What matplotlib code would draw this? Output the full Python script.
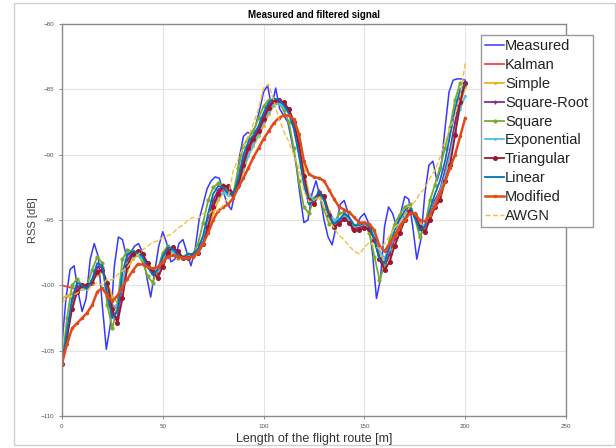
import numpy as np
import matplotlib
matplotlib.use('Agg')
import matplotlib.pyplot as plt
from matplotlib.patches import Rectangle

plt.rcParams['font.family'] = ['Liberation Sans', 'DejaVu Sans']

# measured signal, 2 m grid
x_meas = np.arange(0, 201, 2)
measured = [-104.5, -101.0, -98.8, -98.5, -100.5, -102.0, -101.0, -98.0, -96.8, -97.8,
            -101.5, -104.9, -103.0, -98.5, -96.3, -96.5, -97.8, -97.5, -97.0, -96.8,
            -97.5, -99.3, -100.9, -99.0, -97.0, -95.9, -96.8, -98.2, -98.0, -96.8,
            -96.5, -97.5, -98.5, -97.3, -95.0, -93.8, -92.6, -92.0, -91.7, -91.8,
            -92.8, -93.8, -94.2, -92.8, -90.2, -88.6, -88.3, -88.4, -87.8, -86.6,
            -85.2, -84.7, -86.4, -84.9, -86.5, -87.0, -87.5, -89.0, -90.6, -93.0,
            -95.2, -95.0, -93.0, -92.0, -93.2, -95.0, -96.3, -96.9, -95.5, -93.8,
            -93.5, -94.5, -95.8, -95.5, -94.8, -94.5, -95.2, -97.5, -101.0, -99.5,
            -95.5, -94.0, -94.5, -95.5, -94.5, -93.2, -93.4, -95.5, -98.0, -96.5,
            -93.0, -90.8, -90.5, -92.0, -91.0, -88.0, -85.2, -84.3, -84.2, -84.2,
            -84.3]

# filtered signals, 2.5 m grid
x_filt = np.arange(0, 201, 2.5)
kalman = [-100.0, -100.1, -100.2, -100.3, -100.2, -100.3, -99.8, -98.9, -98.8, -100.0,
          -101.5, -101.8, -100.0, -98.3, -97.7, -97.5, -97.8, -98.5, -99.0, -98.9,
          -98.1, -97.4, -97.3, -97.6, -97.9, -97.8, -97.7, -97.4, -96.6, -95.3,
          -93.9, -93.0, -92.7, -92.9, -93.1, -92.3, -90.8, -89.7, -89.0, -88.3,
          -87.4, -86.5, -86.0, -85.9, -86.1, -86.7, -87.8, -89.6, -91.9, -93.4,
          -93.6, -93.0, -93.4, -94.6, -95.3, -95.1, -94.8, -95.1, -95.6, -95.6,
          -95.4, -95.6, -96.4, -97.8, -98.4, -97.6, -96.5, -95.6, -94.8, -94.3,
          -94.7, -95.5, -95.7, -94.8, -93.8, -92.9, -91.5, -89.9, -87.8, -85.9,
          -84.8]
simple = [-101.0, -100.8, -100.6, -100.3, -100.1, -100.1, -99.7, -99.2, -99.0, -99.8,
          -100.9, -101.3, -100.2, -98.8, -98.0, -97.7, -97.8, -98.3, -98.8, -98.9,
          -98.4, -97.7, -97.4, -97.5, -97.8, -97.9, -97.7, -97.5, -96.9, -95.8,
          -94.5, -93.5, -92.9, -92.9, -93.0, -92.5, -91.3, -90.1, -89.3, -88.6,
          -87.8, -86.9, -86.3, -86.0, -86.1, -86.5, -87.4, -89.0, -91.2, -93.0,
          -93.6, -93.2, -93.3, -94.3, -95.2, -95.2, -94.9, -95.0, -95.5, -95.7,
          -95.5, -95.5, -96.1, -97.4, -98.3, -97.9, -96.9, -95.9, -95.0, -94.4,
          -94.5, -95.2, -95.6, -95.0, -94.0, -93.2, -91.9, -90.3, -88.3, -86.2,
          -84.8]
square_root = [-106.0, -103.8, -101.4, -100.1, -100.0, -100.2, -99.6, -98.6, -98.6, -100.3,
               -102.2, -102.5, -100.0, -98.0, -97.5, -97.4, -97.7, -98.5, -99.1, -99.1,
               -98.2, -97.3, -97.1, -97.5, -97.9, -97.7, -97.6, -97.3, -96.5, -95.0,
               -93.5, -92.7, -92.4, -92.7, -93.0, -92.0, -90.4, -89.3, -88.6, -88.0,
               -87.0, -86.2, -85.8, -85.8, -86.1, -86.6, -87.7, -89.6, -92.0, -93.6,
               -93.6, -92.8, -93.3, -94.7, -95.4, -95.1, -94.7, -95.0, -95.6, -95.6,
               -95.4, -95.6, -96.5, -98.0, -98.6, -97.6, -96.4, -95.5, -94.6, -94.1,
               -94.7, -95.6, -95.7, -94.6, -93.5, -92.7, -91.2, -89.6, -87.5, -85.5,
               -84.6]
square = [-106.0, -102.5, -100.0, -99.5, -100.0, -100.0, -98.8, -97.8, -98.3, -101.5,
          -103.3, -101.5, -98.0, -97.3, -97.4, -97.6, -98.2, -99.3, -99.8, -98.8,
          -97.5, -97.0, -97.4, -97.9, -97.8, -97.6, -97.6, -96.8, -95.2, -93.5,
          -92.5, -92.2, -92.3, -93.0, -93.0, -91.0, -89.3, -88.7, -88.2, -87.2,
          -86.3, -85.8, -85.8, -86.0, -86.6, -87.5, -89.5, -92.0, -94.0, -94.5,
          -93.3, -93.0, -94.2, -95.3, -95.2, -94.5, -94.4, -95.0, -95.5, -95.3,
          -95.2, -96.0, -97.8, -99.6, -98.5, -96.5, -95.3, -94.6, -94.0, -93.8,
          -94.8, -96.3, -95.5, -93.5, -92.3, -91.0, -89.5, -87.9, -85.8, -84.5,
          -84.5]
exponential = [-106.0, -103.8, -101.6, -100.5, -100.3, -100.3, -99.8, -99.0, -98.9, -100.2,
               -101.6, -101.6, -99.8, -98.3, -97.8, -97.7, -97.9, -98.5, -98.9, -98.8,
               -98.1, -97.5, -97.4, -97.7, -97.9, -97.8, -97.7, -97.3, -96.5, -95.2,
               -94.0, -93.2, -92.9, -93.1, -93.2, -92.4, -91.0, -90.0, -89.2, -88.4,
               -87.5, -86.7, -86.2, -86.1, -86.3, -86.9, -88.0, -89.8, -91.8, -93.2,
               -93.4, -93.0, -93.4, -94.4, -95.0, -94.9, -94.7, -95.0, -95.4, -95.4,
               -95.3, -95.5, -96.2, -97.4, -97.9, -97.2, -96.2, -95.4, -94.7, -94.3,
               -94.7, -95.4, -95.4, -94.6, -93.7, -92.8, -91.6, -90.0, -88.2, -86.5,
               -85.5]
triangular = [-106.0, -104.0, -101.8, -100.5, -100.0, -100.0, -99.8, -99.0, -98.8, -99.8,
              -101.8, -102.9, -101.0, -98.5, -97.6, -97.4, -97.6, -98.3, -99.0, -99.4,
              -98.6, -97.5, -97.1, -97.4, -97.9, -97.9, -97.7, -97.5, -96.8, -95.5,
              -94.0, -93.0, -92.4, -92.4, -93.0, -92.3, -90.8, -89.5, -88.8, -88.2,
              -87.3, -86.4, -85.9, -85.8, -86.0, -86.5, -87.5, -89.2, -91.6, -93.5,
              -93.8, -92.9, -93.2, -94.6, -95.5, -95.3, -94.9, -95.2, -95.8, -95.8,
              -95.6, -95.7, -96.5, -98.0, -98.8, -98.2, -97.0, -96.0, -95.0, -94.3,
              -94.6, -95.5, -95.9, -95.0, -94.0, -93.5, -92.0, -90.8, -88.5, -86.0,
              -84.5]
linear = [-106.0, -103.5, -101.0, -99.8, -100.0, -100.3, -99.5, -98.3, -98.5, -100.8,
          -102.5, -102.0, -99.0, -97.6, -97.4, -97.5, -97.8, -98.6, -99.2, -98.8,
          -97.8, -97.1, -97.2, -97.7, -97.9, -97.6, -97.6, -97.2, -96.2, -94.5,
          -93.0, -92.4, -92.5, -93.0, -93.0, -91.8, -90.0, -89.0, -88.5, -87.8,
          -86.8, -86.0, -85.7, -85.8, -86.2, -86.8, -88.0, -90.0, -92.3, -93.8,
          -93.5, -92.8, -93.5, -94.8, -95.3, -95.0, -94.5, -94.8, -95.4, -95.4,
          -95.2, -95.5, -96.5, -98.0, -98.3, -97.0, -95.8, -95.0, -94.3, -94.0,
          -94.8, -95.8, -95.5, -94.2, -93.0, -92.0, -90.5, -88.5, -86.5, -85.0,
          -84.6]
modified = [-106.0, -104.5, -103.3, -102.9, -102.5, -102.1, -101.5, -100.5, -100.2, -100.8,
            -101.2, -100.8, -100.1, -99.5, -98.9, -98.4, -98.4, -98.6, -98.7, -98.6,
            -98.2, -97.8, -97.7, -97.8, -97.9, -97.9, -97.8, -97.5, -96.8, -96.0,
            -95.0, -94.3, -94.0, -93.8, -93.3, -92.5, -91.8, -91.0, -90.2, -89.5,
            -88.8, -88.2, -87.6, -87.2, -87.0, -87.0, -87.3, -88.4, -90.5, -91.5,
            -91.7, -91.8, -92.0, -92.7, -93.4, -94.0, -94.2, -94.4, -94.8, -95.2,
            -95.2, -95.3, -95.8, -97.0, -97.4, -96.8, -96.2, -95.5, -95.0, -94.5,
            -94.5, -95.0, -95.1, -94.6, -93.9, -93.0, -92.1, -91.0, -90.0, -88.6,
            -87.2]
awgn = [-101.3, -101.0, -100.8, -100.6, -100.3, -100.4, -100.0, -99.8, -100.0, -99.5,
        -99.6, -99.2, -98.9, -98.6, -98.0, -97.7, -97.3, -97.0, -96.7, -96.6,
        -96.3, -96.2, -96.0, -95.6, -95.4, -95.0, -94.8, -94.9, -94.5, -94.6,
        -94.2, -94.3, -93.9, -93.2, -91.2, -90.3, -89.4, -88.6, -87.6, -86.5,
        -84.9, -84.6, -85.8, -87.2, -88.2, -89.0, -90.0, -91.0, -92.8, -93.6,
        -93.5, -93.2, -94.0, -95.0, -95.6, -96.2, -96.5, -97.0, -97.4, -97.6,
        -97.1, -96.7, -97.0, -97.2, -96.8, -96.2, -95.6, -95.2, -94.6, -94.0,
        -93.6, -93.0, -92.6, -91.8, -91.2, -90.2, -89.0, -88.0, -87.0, -85.5,
        -83.0]

fig = plt.figure(figsize=(6.16, 4.48), dpi=100)
ax = fig.add_axes([0.1006, 0.0714, 0.8182, 0.875])

fig.add_artist(Rectangle((14 / 616, 3 / 448), 601 / 616, 442 / 448,
                         transform=fig.transFigure, fill=False,
                         edgecolor='#d0d0d0', linewidth=1))

ax.plot(x_meas, measured, color='#3838ff', lw=1.1, label='Measured')
ax.plot(x_filt, kalman, color='#ff4040', lw=1.3, label='Kalman')
ax.plot(x_filt, simple, color='#edb120', lw=1.3, marker='.', ms=2.5, label='Simple')
ax.plot(x_filt, square_root, color='#7e2f8e', lw=1.3, marker='+', ms=3, label='Square-Root')
ax.plot(x_filt, square, color='#77ac30', lw=1.3, marker='o', ms=2, label='Square')
ax.plot(x_filt, exponential, color='#4dbeee', lw=1.3, marker='.', ms=2, label='Exponential')
ax.plot(x_filt, triangular, color='#a2142f', lw=1.3, marker='o', ms=2.6, label='Triangular')
ax.plot(x_filt, linear, color='#0072bd', lw=1.3, label='Linear')
ax.plot(x_filt, modified, color='#e34a1a', lw=1.8, marker='.', ms=3, label='Modified')
ax.plot(x_filt, awgn, color='#f5c040', lw=1.0, ls='--', label='AWGN')

ax.set_xlim(0, 250)
ax.set_ylim(-110, -80)
ax.set_xticks(np.arange(0, 251, 50))
ax.set_yticks(np.arange(-110, -79, 5))
ax.tick_params(labelsize=4.5, labelcolor='#555555', length=2, color='#777777', width=0.6)
ax.grid(True, color='#e4e4e4', lw=0.8)
for s in ax.spines.values():
    s.set_color('#8a8a8a')
    s.set_linewidth(1.0)

ax.set_title('Measured and filtered signal', fontsize=7, fontweight='bold', pad=4)
ax.set_xlabel('Length of the flight route [m]', fontsize=9, color='#333333', labelpad=3)
ax.set_ylabel('RSS [dB]', fontsize=8, color='#444444')
ax.yaxis.set_label_coords(-0.048, 0.5)

leg = ax.legend(loc='upper left', bbox_to_anchor=(481 / 616, 1 - 35 / 448),
                bbox_transform=fig.transFigure, fontsize=10.5, frameon=True,
                fancybox=False, framealpha=1, edgecolor='#999999',
                handlelength=1.3, handletextpad=0.05, labelspacing=0.33,
                borderpad=0.3, borderaxespad=0)
leg.get_frame().set_linewidth(1.0)
for t in leg.get_texts():
    t.set_color('#222222')

fig.savefig('out.png', dpi=100)
